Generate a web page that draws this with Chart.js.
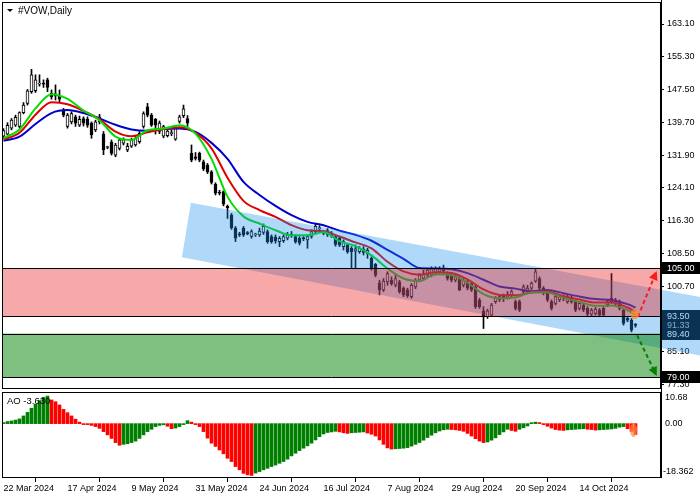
<!DOCTYPE html>
<html>
<head>
<meta charset="utf-8">
<script src="https://cdn.jsdelivr.net/npm/chart.js@4.4.1/dist/chart.umd.min.js"></script>
<style>
    html, body { margin: 0; padding: 0; background: #fff; }
    #wrap { position: relative; width: 700px; height: 500px; overflow: hidden; }
    #main { position: absolute; left: 0; top: 0; }
    #ao { position: absolute; left: 0; top: 390px; }
</style>
</head>
<body>
<div id="wrap">
    <canvas id="main" width="700" height="390"></canvas>
    <canvas id="ao" width="700" height="110"></canvas>
</div>
<script>
"use strict";

// Daily candles, 22 Mar 2024 .. 31 Oct 2024
var opens = [
    136.4, 136.9, 138.3, 139.0, 138.7, 142.0, 144.2, 147.0, 147.2, 148.8, 149.0, 149.8, 146.6, 146.5, 146.0, 142.6,
    138.7, 139.8, 141.0, 139.0, 140.6, 140.4, 139.5, 137.9, 139.8, 136.9, 133.7, 135.0, 131.9, 133.5, 134.7, 133.1,
    134.0, 134.3, 135.1, 138.7, 143.4, 141.4, 140.4, 137.5, 136.4, 136.5, 137.0, 135.7, 139.9, 141.3, 140.6, 132.3,
    131.5, 132.3, 130.3, 129.5, 127.9, 124.9, 123.0, 123.2, 119.7, 117.6, 114.5, 113.0, 114.5, 113.3, 112.5, 112.9,
    112.9, 113.5, 113.7, 112.5, 112.4, 111.3, 111.5, 112.1, 112.9, 112.5, 112.1, 112.1, 111.7, 112.5, 113.7, 114.3,
    113.4, 112.9, 113.2, 112.5, 112.1, 110.1, 110.5, 109.7, 109.0, 108.9, 109.5, 108.5, 107.3, 105.9, 101.5, 99.8,
    101.7, 102.1, 100.9, 101.7, 100.2, 99.8, 98.2, 100.5, 102.1, 102.5, 103.3, 103.3, 103.7, 104.1, 104.5, 103.7,
    103.3, 102.1, 102.5, 100.9, 101.7, 101.3, 100.5, 97.4, 94.8, 93.4, 93.8, 97.0, 97.4, 98.2, 98.0, 98.6,
    97.0, 97.0, 99.4, 99.4, 100.2, 101.9, 102.5, 100.2, 99.4, 97.0, 96.6, 97.4, 98.0, 97.0, 98.0, 97.0,
    95.4, 96.2, 95.4, 94.0, 94.2, 95.0, 95.4, 96.2, 97.0, 97.4, 97.0, 95.0, 93.0, 92.6, 91.4
];
var highs = [
    138.2, 139.6, 140.6, 141.4, 142.2, 144.4, 147.5, 152.3, 151.0, 151.0, 149.8, 150.2, 147.4, 148.6, 147.4, 143.0,
    141.8, 142.2, 141.4, 141.2, 141.0, 141.0, 139.8, 140.2, 141.6, 137.5, 134.0, 135.5, 134.7, 135.9, 136.0, 134.7,
    135.9, 136.3, 137.5, 142.2, 144.2, 141.8, 140.6, 140.0, 139.0, 138.0, 137.8, 138.7, 141.4, 143.8, 141.3, 134.3,
    132.5, 132.6, 130.7, 129.9, 128.2, 125.3, 123.5, 123.4, 120.0, 118.0, 114.9, 113.5, 114.9, 113.7, 114.1, 113.3,
    114.5, 115.5, 114.1, 112.9, 112.9, 112.5, 112.9, 113.5, 113.7, 112.9, 112.5, 112.5, 112.9, 114.1, 115.5, 115.1,
    113.9, 114.4, 113.7, 112.9, 112.5, 111.7, 110.9, 110.1, 110.5, 110.1, 110.1, 109.7, 107.7, 106.1, 102.1, 102.5,
    104.1, 102.9, 103.3, 102.1, 100.5, 100.2, 101.3, 102.5, 103.7, 104.5, 104.9, 105.3, 105.3, 105.3, 105.7, 104.1,
    103.7, 103.3, 102.9, 102.5, 102.1, 101.7, 100.9, 97.8, 95.8, 95.2, 96.6, 98.2, 98.6, 98.8, 99.4, 99.8,
    97.4, 97.4, 101.0, 100.9, 101.7, 104.8, 102.9, 100.6, 99.8, 97.4, 98.6, 98.6, 98.6, 98.6, 98.4, 97.4,
    97.0, 96.6, 95.8, 95.4, 95.6, 95.4, 95.8, 97.4, 103.7, 97.8, 97.4, 95.4, 93.4, 93.0, 91.8
];
var lows = [
    135.9, 136.7, 137.9, 138.7, 138.3, 141.7, 143.8, 146.6, 146.8, 148.3, 148.0, 147.0, 145.2, 145.0, 144.6, 141.0,
    138.3, 139.3, 138.7, 138.7, 138.8, 138.5, 135.9, 137.5, 139.3, 132.0, 133.4, 131.9, 131.5, 133.1, 134.3, 132.7,
    133.7, 134.0, 134.7, 138.3, 141.0, 138.7, 136.9, 137.0, 136.0, 136.2, 136.5, 135.4, 139.5, 140.8, 138.7, 130.3,
    130.7, 130.3, 128.2, 127.5, 125.0, 122.4, 122.4, 119.8, 116.8, 114.2, 111.3, 112.5, 112.5, 112.9, 112.1, 112.5,
    112.5, 113.0, 110.9, 110.9, 110.9, 110.1, 111.1, 111.7, 112.3, 110.9, 110.5, 111.5, 109.7, 112.1, 113.3, 113.9,
    112.9, 112.5, 112.3, 110.2, 110.1, 109.3, 108.5, 104.9, 104.9, 108.5, 108.1, 107.3, 104.5, 102.9, 98.6, 99.4,
    100.9, 100.9, 100.5, 99.0, 98.2, 98.0, 97.8, 100.1, 101.7, 102.1, 102.9, 102.9, 103.3, 103.7, 103.7, 102.1,
    101.7, 101.7, 99.6, 100.5, 99.8, 99.4, 95.4, 95.4, 90.6, 93.0, 93.4, 96.6, 97.0, 97.0, 97.6, 98.2,
    95.0, 94.6, 99.0, 99.0, 99.8, 101.6, 99.8, 98.6, 97.0, 95.0, 96.2, 97.0, 97.2, 96.6, 96.6, 94.6,
    95.0, 94.6, 93.6, 93.6, 93.8, 93.4, 93.4, 95.8, 96.6, 96.2, 95.0, 91.4, 92.2, 89.8, 90.9
];
var closes = [
    137.7, 139.0, 140.2, 140.9, 142.0, 143.8, 147.2, 151.0, 149.8, 148.9, 148.8, 148.0, 145.8, 146.0, 145.2, 141.4,
    141.4, 141.8, 139.5, 140.4, 139.5, 139.0, 136.7, 139.8, 141.0, 133.1, 133.7, 132.3, 134.3, 135.5, 135.5, 134.0,
    135.5, 135.9, 137.1, 141.8, 141.4, 139.0, 139.0, 139.5, 138.7, 137.6, 137.2, 138.3, 141.0, 142.9, 139.5, 130.7,
    131.1, 130.7, 128.6, 127.9, 125.4, 122.8, 122.8, 120.2, 119.4, 114.6, 112.1, 112.9, 112.9, 113.2, 113.7, 112.9,
    113.8, 114.9, 111.3, 111.3, 111.5, 112.1, 112.5, 112.9, 112.8, 111.3, 110.9, 112.0, 112.5, 113.7, 114.9, 114.6,
    113.3, 113.9, 112.6, 110.6, 110.5, 111.3, 108.9, 108.9, 109.6, 109.7, 108.7, 109.2, 104.9, 103.3, 99.8, 101.9,
    103.7, 101.3, 102.5, 99.4, 98.6, 98.4, 100.9, 102.1, 103.3, 103.7, 104.5, 104.9, 104.9, 104.9, 104.4, 102.5,
    102.1, 102.9, 99.8, 102.1, 100.2, 99.8, 95.8, 95.8, 93.4, 94.8, 96.2, 97.8, 98.2, 98.0, 98.7, 99.4,
    95.4, 95.0, 100.5, 100.2, 101.4, 104.1, 100.2, 99.0, 97.4, 95.4, 98.2, 98.2, 97.9, 98.2, 97.0, 95.0,
    96.6, 95.0, 94.0, 95.0, 95.2, 93.8, 93.8, 97.0, 97.8, 96.6, 95.4, 91.8, 92.6, 90.2, 91.33
];

// Moving averages, read every 4th bar
var maBars = [0, 4, 8, 12, 16, 20, 24, 28, 32, 36, 40, 44, 48, 52, 56, 60, 64, 68, 72, 76, 80,
    84, 88, 92, 96, 100, 104, 108, 112, 116, 120, 124, 128, 132, 136, 140, 144, 148, 152, 156, 158];
var maGreen = [135.9, 138.0, 143.0, 146.4, 145.3, 142.5, 140.2, 136.3, 135.5, 137.8, 138.2, 139.0, 137.0, 131.0,
    122.0, 117.3, 115.6, 114.0, 112.8, 112.8, 113.5, 111.4, 110.2, 108.0, 104.9, 102.5, 101.9, 103.5, 103.3, 101.5,
    98.8, 97.8, 98.0, 99.2, 99.2, 97.9, 96.9, 96.0, 96.1, 95.0, 93.8];
var maRed = [135.6, 137.2, 141.5, 144.5, 144.0, 142.4, 140.4, 137.5, 136.4, 137.3, 138.1, 138.5, 137.2, 133.5,
    126.5, 121.0, 118.8, 117.2, 115.2, 114.0, 113.8, 112.5, 111.1, 109.7, 106.5, 104.2, 103.4, 104.0, 103.8, 102.3,
    99.9, 98.6, 98.5, 99.2, 99.4, 98.3, 97.5, 96.8, 96.8, 95.6, 94.6];
var maBlue = [135.3, 136.3, 139.3, 141.9, 142.6, 141.9, 140.6, 139.1, 138.0, 137.7, 138.1, 138.2, 137.4, 134.8,
    131.0, 125.5, 122.4, 119.8, 117.6, 116.0, 115.2, 113.9, 112.9, 111.5, 109.3, 107.2, 105.0, 104.9, 104.7, 103.8,
    102.2, 100.6, 100.1, 99.5, 99.8, 99.0, 98.2, 97.6, 97.4, 96.4, 95.6];

// Awesome Oscillator, one value per bar
var aoValues = [
    0.3, 0.7, 0.9, 1.2, 1.6, 2.6, 3.8, 5.2, 6.6, 7.8, 8.9, 9.3, 8.0, 7.4, 6.3, 4.8,
    3.7, 2.6, 1.5, 0.5, -0.1, -0.3, -0.6, -1.0, -1.6, -2.7, -3.8, -5.0, -6.4, -7.3, -7.0, -6.8,
    -6.4, -5.9, -5.0, -3.8, -2.7, -1.9, -1.0, -0.6, -0.4, -0.9, -1.7, -1.5, -1.0, -0.3, 1.0, 0.5,
    -0.2, -1.0, -2.7, -4.9, -6.6, -7.7, -8.9, -10.2, -11.7, -12.8, -14.5, -15.6, -16.8, -17.3, -17.5, -16.7,
    -16.2, -15.6, -15.1, -14.5, -14.0, -13.4, -12.8, -12.0, -10.9, -10.0, -9.1, -8.3, -7.5, -6.6, -5.5, -4.4,
    -3.5, -3.0, -2.8, -2.6, -2.8, -3.1, -3.3, -3.1, -3.0, -2.9, -2.8, -3.2, -3.6, -4.2, -5.5, -7.0,
    -8.2, -8.6, -8.5, -8.4, -8.3, -8.1, -7.6, -7.0, -6.4, -5.6, -4.7, -3.9, -3.1, -2.5, -2.1, -1.9,
    -2.0, -2.1, -2.3, -2.6, -3.3, -4.2, -5.1, -5.9, -6.4, -6.2, -5.6, -4.8, -3.7, -2.8, -1.9, -2.3,
    -2.6, -1.9, -1.4, -0.8, 0.3, 0.5, 0.2, -0.2, -0.9, -1.5, -2.0, -2.2, -2.3, -2.1, -2.0, -1.9,
    -1.8, -1.7, -1.9, -2.0, -2.2, -2.1, -2.0, -1.9, -1.8, -1.6, -1.2, -1.0, -1.7, -2.6, -3.63
];

// Axis ticks
var xTickBars = [0, 16, 32, 48, 64, 80, 96, 112, 128, 144];
var xTickLabels = ['22 Mar 2024', '17 Apr 2024', '9 May 2024', '31 May 2024', '24 Jun 2024',
    '16 Jul 2024', '7 Aug 2024', '29 Aug 2024', '20 Sep 2024', '14 Oct 2024'];
var yTicks = [163.1, 155.3, 147.5, 139.7, 131.9, 124.1, 116.3, 108.5, 100.7, 92.9, 85.1, 77.3];
var aoTickLabels = ['10.68', '0.00', '-18.362'];

// Levels and drawn objects (price units / bar index)
var resistanceZone = [105.0, 93.5];
var supportZone = [89.4, 79.0];
var lastPrice = 91.33;
var channel = [[46.85, 120.55], [174.2, 98.1], [174.2, 84.17], [44.6, 107.55]];
var upArrow = [[158.6, 93.4], [163.3, 104.3]];
var downArrow = [[158.4, 89.0], [163.3, 79.3]];

var FONT = 'Liberation Sans, Arial, sans-serif';
var X_MIN = -0.375, X_MAX = 164.375;

var bars = opens.map(function (_, i) { return i; });

function xScaleOpts(show) {
    return {
        type: 'linear',
        min: X_MIN,
        max: X_MAX,
        display: show,
        offset: false,
        grid: { drawOnChartArea: false, drawTicks: true, tickLength: 4, color: '#000' },
        border: { display: false },
        afterBuildTicks: function (scale) {
            scale.ticks = xTickBars.map(function (v) { return { value: v }; });
        },
        afterFit: function (scale) {
            if (show) { scale.height = 22; }
            scale.paddingLeft = 0;
            scale.paddingRight = 0;
        },
        ticks: {
            autoSkip: false,
            maxRotation: 0,
            align: 'start',
            padding: 1,
            color: '#000',
            font: { family: FONT, size: 9 },
            callback: function (value) {
                var k = xTickBars.indexOf(value);
                return k >= 0 ? xTickLabels[k] : '';
            }
        }
    };
}

function label(ctx, x, yMid, w, h, bg, fg, text) {
    ctx.fillStyle = bg;
    ctx.fillRect(x, Math.round(yMid - h / 2), w, h);
    ctx.fillStyle = fg;
    ctx.font = '9px ' + FONT;
    ctx.textAlign = 'left';
    ctx.textBaseline = 'middle';
    ctx.fillText(text, x + 5, yMid + 0.5);
}

var mainOverlay = {
    id: 'mainOverlay',
    afterDatasetsDraw: function (chart) {
        var ctx = chart.ctx, area = chart.chartArea;
        var xs = chart.scales.x, ys = chart.scales.y;
        var px = function (v) { return xs.getPixelForValue(v); };
        var py = function (v) { return ys.getPixelForValue(v); };

        ctx.save();
        // price tags on the right axis
        label(ctx, area.right + 1, py(105.0), 38, 12, '#000', '#fff', '105.00');
        label(ctx, area.right + 1, py(lastPrice), 38, 12, '#000', '#bbb', '91.33');
        label(ctx, area.right + 1, py(93.5), 38, 12, '#000', '#fff', '93.50');
        label(ctx, area.right + 1, py(89.4), 38, 12, '#000', '#fff', '89.40');
        label(ctx, area.right + 1, py(79.0), 38, 12, '#000', '#fff', '79.00');

        // regression channel, runs over the price scale
        ctx.beginPath();
        ctx.rect(area.left, area.top, 700 - area.left, area.bottom - area.top);
        ctx.clip();
        ctx.fillStyle = 'rgba(29,143,235,0.35)';
        ctx.beginPath();
        channel.forEach(function (p, k) {
            if (k === 0) ctx.moveTo(px(p[0]), py(p[1])); else ctx.lineTo(px(p[0]), py(p[1]));
        });
        ctx.closePath();
        ctx.fill();
        ctx.restore();

        ctx.save();
        ctx.beginPath();
        ctx.rect(area.left, area.top, area.right - area.left, area.bottom - area.top);
        ctx.clip();
        ctx.fillStyle = 'rgba(235,30,30,0.38)';
        ctx.fillRect(area.left, py(resistanceZone[0]), area.right - area.left, py(resistanceZone[1]) - py(resistanceZone[0]));
        ctx.fillStyle = 'rgba(0,128,0,0.5)';
        ctx.fillRect(area.left, py(supportZone[0]), area.right - area.left, py(supportZone[1]) - py(supportZone[0]));

        ctx.strokeStyle = '#000';
        ctx.lineWidth = 1;
        resistanceZone.concat(supportZone).forEach(function (v) {
            var y = Math.round(py(v)) + 0.5;
            ctx.beginPath();
            ctx.moveTo(area.left, y);
            ctx.lineTo(area.right, y);
            ctx.stroke();
        });

        // scenario arrows
        [[upArrow, '#ff1a1a'], [downArrow, '#0a7a0a']].forEach(function (a) {
            var x0 = px(a[0][0][0]), y0 = py(a[0][0][1]);
            var x1 = px(a[0][1][0]), y1 = py(a[0][1][1]);
            var ang = Math.atan2(y1 - y0, x1 - x0);
            ctx.strokeStyle = a[1];
            ctx.fillStyle = a[1];
            ctx.lineWidth = 2;
            ctx.setLineDash([4, 3]);
            ctx.beginPath();
            ctx.moveTo(x0, y0);
            ctx.lineTo(x1 - 6 * Math.cos(ang), y1 - 6 * Math.sin(ang));
            ctx.stroke();
            ctx.setLineDash([]);
            ctx.beginPath();
            ctx.moveTo(x1, y1);
            ctx.lineTo(x1 - 9 * Math.cos(ang) + 4.5 * Math.sin(ang), y1 - 9 * Math.sin(ang) - 4.5 * Math.cos(ang));
            ctx.lineTo(x1 - 9 * Math.cos(ang) - 4.5 * Math.sin(ang), y1 - 9 * Math.sin(ang) + 4.5 * Math.cos(ang));
            ctx.closePath();
            ctx.fill();
        });

        // highlight where the averages end
        ctx.fillStyle = 'rgba(255,140,40,0.75)';
        ctx.beginPath();
        ctx.ellipse(px(157.8), py(94.0), 4, 5, 0, 0, Math.PI * 2);
        ctx.fill();
        ctx.restore();

        // frame and title
        ctx.save();
        ctx.strokeStyle = '#000';
        ctx.lineWidth = 1;
        ctx.strokeRect(area.left + 0.5, area.top + 0.5, area.right - area.left - 1, area.bottom - area.top - 1);
        ctx.beginPath();
        ctx.moveTo(area.right + 0.5, 0);
        ctx.lineTo(area.right + 0.5, 390);
        ctx.stroke();
        ctx.fillStyle = '#000';
        ctx.beginPath();
        ctx.moveTo(7, 9);
        ctx.lineTo(13, 9);
        ctx.lineTo(10, 12);
        ctx.closePath();
        ctx.fill();
        ctx.font = '10px ' + FONT;
        ctx.textAlign = 'left';
        ctx.textBaseline = 'middle';
        ctx.fillText('#VOW,Daily', 18, 11);
        ctx.restore();
    }
};

var mainChart = new Chart(document.getElementById('main').getContext('2d'), {
    type: 'bar',
    data: {
        datasets: [{
            type: 'line',
            data: maBars.map(function (b, k) { return { x: b, y: maGreen[k] }; }),
            borderColor: '#00dd00',
            borderWidth: 2,
            pointRadius: 0,
            cubicInterpolationMode: 'monotone',
            order: 0
        }, {
            type: 'line',
            data: maBars.map(function (b, k) { return { x: b, y: maRed[k] }; }),
            borderColor: '#e00000',
            borderWidth: 2,
            pointRadius: 0,
            cubicInterpolationMode: 'monotone',
            order: 1
        }, {
            type: 'line',
            data: maBars.map(function (b, k) { return { x: b, y: maBlue[k] }; }),
            borderColor: '#0000cc',
            borderWidth: 2,
            pointRadius: 0,
            cubicInterpolationMode: 'monotone',
            order: 2
        }, {
            // candle bodies
            data: bars.map(function (i) { return { x: i, y: [opens[i], closes[i]] }; }),
            backgroundColor: bars.map(function (i) { return closes[i] >= opens[i] ? '#fff' : '#000'; }),
            borderColor: '#000',
            borderWidth: 1,
            borderSkipped: false,
            barThickness: 3,
            minBarLength: 1,
            grouped: false,
            order: 3
        }, {
            // wicks
            data: bars.map(function (i) { return { x: i, y: [lows[i], highs[i]] }; }),
            backgroundColor: '#000',
            barThickness: 1,
            grouped: false,
            order: 4
        }]
    },
    options: {
        responsive: false,
        animation: false,
        devicePixelRatio: 1,
        layout: { padding: { left: 2, top: 2, right: 0, bottom: 1 } },
        scales: {
            x: xScaleOpts(false),
            y: {
                type: 'linear',
                position: 'right',
                min: 76.2,
                max: 168.34,
                grid: { drawOnChartArea: false, drawTicks: true, tickLength: 3, color: '#000' },
                border: { display: false },
                afterBuildTicks: function (scale) {
                    scale.ticks = yTicks.map(function (v) { return { value: v }; });
                },
                afterFit: function (scale) {
                    scale.width = 39;
                    scale.paddingTop = 0;
                    scale.paddingBottom = 0;
                },
                ticks: {
                    padding: 3,
                    color: '#000',
                    font: { family: FONT, size: 9 },
                    callback: function (value) { return value.toFixed(2); }
                }
            }
        },
        plugins: { legend: { display: false }, tooltip: { enabled: false } }
    },
    plugins: [mainOverlay]
});

var aoOverlay = {
    id: 'aoOverlay',
    afterDatasetsDraw: function (chart) {
        var ctx = chart.ctx, area = chart.chartArea;
        var xs = chart.scales.x, ys = chart.scales.y;
        ctx.save();
        ctx.fillStyle = 'rgba(255,140,60,0.7)';
        ctx.beginPath();
        ctx.ellipse(xs.getPixelForValue(157.5), ys.getPixelForValue(-2.2), 3.5, 7, 0, 0, Math.PI * 2);
        ctx.fill();

        ctx.strokeStyle = '#000';
        ctx.lineWidth = 1;
        ctx.strokeRect(area.left + 0.5, area.top + 0.5, area.right - area.left - 1, area.bottom - area.top - 1);
        ctx.beginPath();
        ctx.moveTo(area.right + 0.5, 0);
        ctx.lineTo(area.right + 0.5, area.bottom);
        ctx.stroke();

        ctx.fillStyle = '#000';
        ctx.font = '9px ' + FONT;
        ctx.textBaseline = 'middle';
        ctx.textAlign = 'left';
        ctx.fillText(aoTickLabels[0], area.right + 4, area.top + 6);
        ctx.fillText(aoTickLabels[1], area.right + 4, ys.getPixelForValue(0));
        ctx.fillText(aoTickLabels[2], area.right + 2, area.bottom - 6);
        ctx.font = '9.5px ' + FONT;
        ctx.fillText('AO -3.630', 7, area.top + 9);
        ctx.restore();
    }
};

var aoChart = new Chart(document.getElementById('ao').getContext('2d'), {
    type: 'bar',
    data: {
        datasets: [{
            data: bars.map(function (i) { return { x: i, y: aoValues[i] }; }),
            backgroundColor: bars.map(function (i) {
                return (i === 0 || aoValues[i] > aoValues[i - 1]) ? '#008000' : '#ff0000';
            }),
            barThickness: 3,
            minBarLength: 1
        }]
    },
    options: {
        responsive: false,
        animation: false,
        devicePixelRatio: 1,
        layout: { padding: { left: 2, top: 2, right: 0, bottom: 0 } },
        scales: {
            x: xScaleOpts(true),
            y: {
                type: 'linear',
                position: 'right',
                min: -18.362,
                max: 10.68,
                grid: { display: false },
                border: { display: false },
                ticks: { display: false },
                afterFit: function (scale) {
                    scale.width = 39;
                    scale.paddingTop = 0;
                    scale.paddingBottom = 0;
                }
            }
        },
        plugins: { legend: { display: false }, tooltip: { enabled: false } }
    },
    plugins: [aoOverlay]
});
</script>
</body>
</html>
